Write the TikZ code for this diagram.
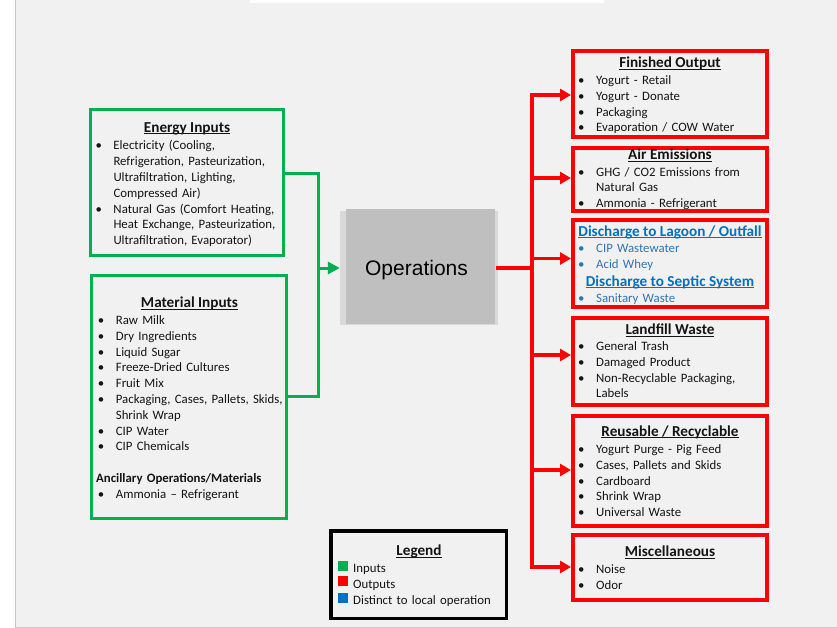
\documentclass[tikz,border=0pt]{standalone}
\usepackage{fontspec}
\setmainfont{Carlito}
\newfontfamily\opsfont{Liberation Sans}
\usetikzlibrary{arrows.meta}

\definecolor{panel}{HTML}{F1F1F1}
\definecolor{paneledge}{HTML}{C8C8C8}
\definecolor{ingreen}{HTML}{00B050}
\definecolor{outred}{HTML}{FF0000}
\definecolor{localblue}{HTML}{0070C0}
\definecolor{itemblue}{HTML}{2E75B6}
\definecolor{ink}{HTML}{141414}
\definecolor{opsface}{HTML}{BFBFBF}
\definecolor{opsshade}{HTML}{D9D9D9}

\newcommand\bodyfont{\fontsize{12.8}{15.8}\selectfont}
\newcommand\headfont{\fontsize{15.2}{18}\selectfont\bfseries}
% underline sitting just below the baseline
\newcommand\ulhead[1]{\setbox0\hbox{#1}\rlap{\rule[-2.2pt]{\wd0}{1.1pt}}\box0}
\newcommand\bi{\makebox[18pt][l]{\textbullet}}
\newcommand\ii{\hspace*{18pt}}

\tikzset{
  inbox/.style={draw=ingreen, line width=3pt, inner sep=0pt},
  outbox/.style={draw=outred, line width=4pt, inner sep=0pt},
  legendbox/.style={draw=black, line width=3.5pt, inner sep=0pt},
  head/.style={anchor=base, inner sep=0pt, yshift=-1.2pt, font=\headfont, text=ink},
  itemlist/.style={anchor=base west, inner sep=0pt, yshift=-1.2pt, text width=300pt, align=left, font=\bodyfont, text=ink},
  greenline/.style={draw=ingreen, line width=3pt, line join=miter},
  greenarrow/.style={greenline, -{Triangle[length=12pt,width=12pt]}},
  redline/.style={draw=outred, line width=4pt, line cap=rect},
  redarrow/.style={draw=outred, line width=3.5pt, -{Triangle[length=11pt,width=12pt]}},
  swatch/.style={minimum width=9.5pt, minimum height=10pt, inner sep=0pt},
}

\begin{document}
\begin{tikzpicture}[x=1pt,y=-1pt]
\useasboundingbox (0,0) rectangle (837,628);
% page background
\fill[white] (0,0) rectangle (837,628);
\fill[panel] (15,0) rectangle (837,627);
\draw[paneledge, line width=1pt] (15,0) -- (15,627) -- (837,627);
\fill[white] (250,0) rectangle (604,3);

% ---------- inputs ----------
\node[inbox, minimum width=193pt, minimum height=146pt] (energy) at (187,182.5) {};
\node[head] (energyHead) at (187,131) {\ulhead{Energy Inputs}};
\node[itemlist] (energyList) at (95.3,148.7) {\bi Electricity (Cooling,\\
\ii Refrigeration, Pasteurization,\\
\ii Ultrafiltration, Lighting,\\
\ii Compressed Air)\\
\bi Natural Gas (Comfort Heating,\\
\ii Heat Exchange, Pasteurization,\\
\ii Ultrafiltration, Evaporator)};

\node[inbox, minimum width=195pt, minimum height=243pt] (material) at (189,397) {};
\node[head] (materialHead) at (189.5,306.7) {\ulhead{Material Inputs}};
\node[itemlist] (materialList) at (97.7,323.3) {\bi Raw Milk\\
\bi Dry Ingredients\\
\bi Liquid Sugar\\
\bi Freeze-Dried Cultures\\
\bi Fruit Mix\\
\bi Packaging, Cases, Pallets, Skids,\\
\ii Shrink Wrap\\
\bi CIP Water\\
\bi CIP Chemicals\\[15.8pt]
\hspace*{-1.7pt}\textbf{Ancillary Operations/Materials}\\
\bi Ammonia – Refrigerant};

% ---------- operations ----------
\node[fill=opsshade, minimum width=158pt, minimum height=114pt, inner sep=0pt] (ops) at (419,268) {};
\node[fill=opsface, minimum width=149pt, minimum height=115pt, inner sep=0pt] (opsFace) at (420.5,266.5) {};
\node[anchor=base, inner sep=0pt, font=\opsfont\fontsize{21}{24}\selectfont, text=black] (opsLabel) at (416.5,275) {Operations};

% ---------- outputs ----------
\node[outbox, minimum width=194pt, minimum height=86pt] (fin) at (670,94) {};
\node[head] (finHead) at (670,66.7) {\ulhead{Finished Output}};
\node[itemlist] (finList) at (578,83.3) {\bi Yogurt - Retail\\
\bi Yogurt - Donate\\
\bi Packaging\\
\bi Evaporation / COW Water};

\node[outbox, minimum width=194pt, minimum height=63pt] (air) at (670,179.5) {};
\node[head] (airHead) at (670,158.5) {\ulhead{Air Emissions}};
\node[itemlist] (airList) at (578,175) {\bi GHG / CO2 Emissions from\\
\ii Natural Gas\\[-0.4pt]
\bi Ammonia - Refrigerant};

\node[outbox, minimum width=194pt, minimum height=87pt] (dis) at (670,263.5) {};
\node[head, text=localblue] (disHead) at (670,235) {\ulhead{Discharge to Lagoon / Outfall}};
\node[itemlist, text=itemblue] (disList) at (578,251.7) {\bi CIP Wastewater\\
\bi Acid Whey};
\node[head, text=localblue] (septicHead) at (670,285) {\ulhead{Discharge to Septic System}};
\node[itemlist, text=itemblue] (septicList) at (578,300.8) {\bi Sanitary Waste};

\node[outbox, minimum width=194pt, minimum height=87pt] (land) at (670,361.5) {};
\node[head] (landHead) at (670,333.3) {\ulhead{Landfill Waste}};
\node[itemlist] (landList) at (578,349.3) {\bi General Trash\\
\bi Damaged Product\\
\bi Non-Recyclable Packaging,\\
\ii Labels};

\node[outbox, minimum width=194pt, minimum height=110pt] (reuse) at (670,471) {};
\node[head] (reuseHead) at (670,435) {\ulhead{Reusable / Recyclable}};
\node[itemlist] (reuseList) at (578,452.3) {\bi Yogurt Purge - Pig Feed\\
\bi Cases, Pallets and Skids\\
\bi Cardboard\\
\bi Shrink Wrap\\
\bi Universal Waste};

\node[outbox, minimum width=194pt, minimum height=65pt] (misc) at (670,567.5) {};
\node[head] (miscHead) at (670,555.3) {\ulhead{Miscellaneous}};
\node[itemlist] (miscList) at (578,572.7) {\bi Noise\\
\bi Odor};

% ---------- legend ----------
\node[legendbox, minimum width=175.5pt, minimum height=87.5pt] (legend) at (418.5,574.5) {};
\node[head] (legendHead) at (419,554.3) {\ulhead{Legend}};
\node[swatch, fill=ingreen] (swIn) at (343,566.2) {};
\node[swatch, fill=outred] (swOut) at (343,581.4) {};
\node[swatch, fill=localblue] (swLocal) at (343,597.7) {};
\node[itemlist] (legendList) at (353,571.7) {Inputs\\Outputs\\Distinct to local operation};

% ---------- connectors ----------
\coordinate (gtop) at (318,173.7);
\coordinate (gbot) at (318,396.5);
\coordinate (gbus) at (318,268);
\draw[greenline] (energy.east |- gtop) -- (gtop) -- (gbot) -- (material.east |- gbot);
\draw[greenarrow] (gbus) -- (ops.west);

\coordinate (rbus) at (532,268);
\coordinate (finIn) at (571,95);
\coordinate (airIn) at (571,178);
\coordinate (disIn) at (571,258.5);
\coordinate (landIn) at (571,355);
\coordinate (reuseIn) at (571,470);
\coordinate (miscIn) at (571,567);
\draw[redline] (ops.east) -- (rbus);
\draw[redline] (rbus |- finIn) -- (rbus |- miscIn);
\draw[redarrow] (rbus |- finIn) -- (fin.west |- finIn);
\draw[redarrow] (rbus |- airIn) -- (air.west |- airIn);
\draw[redarrow] (rbus |- disIn) -- (dis.west |- disIn);
\draw[redarrow] (rbus |- landIn) -- (land.west |- landIn);
\draw[redarrow] (rbus |- reuseIn) -- (reuse.west |- reuseIn);
\draw[redarrow] (rbus |- miscIn) -- (misc.west |- miscIn);
\end{tikzpicture}
\end{document}
